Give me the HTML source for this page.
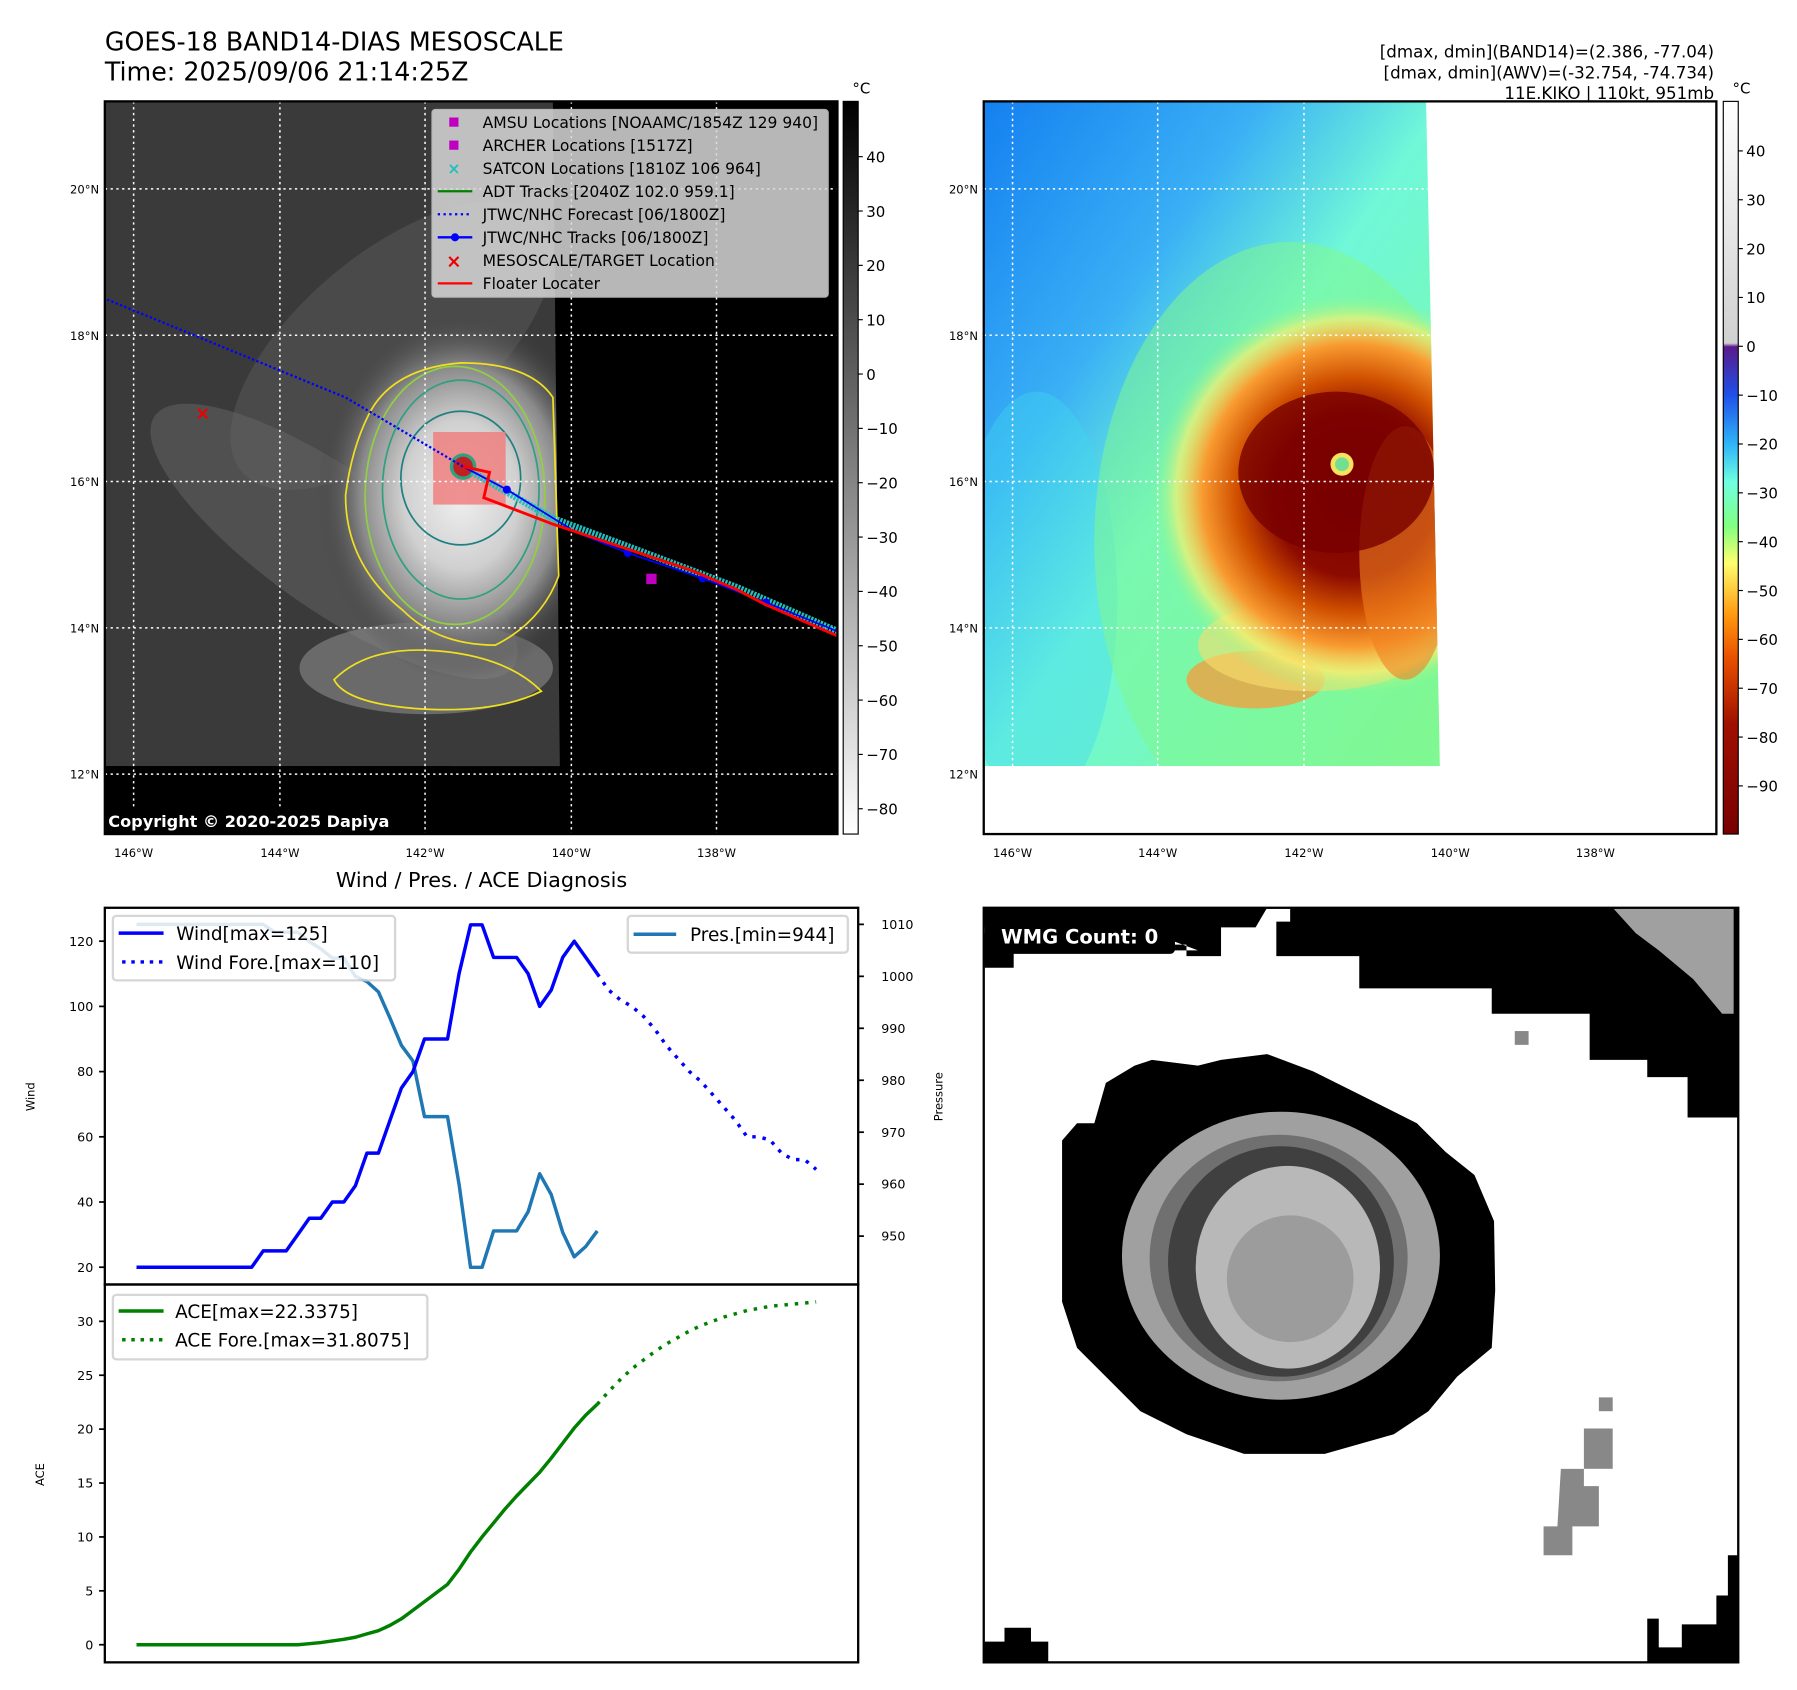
<!DOCTYPE html>
<html><head><meta charset="utf-8"><style>
html,body{margin:0;padding:0;background:#fff;}
svg{display:block;font-family:"DejaVu Sans","Liberation Sans",sans-serif;}
</style></head><body>
<svg id="root" width="1797" height="1690" viewBox="0 0 1560 1467" preserveAspectRatio="none" xmlns="http://www.w3.org/2000/svg">
<defs>
<linearGradient id="cb1" x1="0" y1="0" x2="0" y2="1"><stop offset="0" stop-color="#000"/><stop offset="1" stop-color="#fff"/></linearGradient>
<linearGradient id="cb2" x1="0" y1="0" x2="0" y2="1">
<stop offset="0" stop-color="#ffffff"/><stop offset="0.33" stop-color="#d0d0d0"/>
<stop offset="0.335" stop-color="#5a1a8a"/><stop offset="0.4" stop-color="#1f4fe8"/>
<stop offset="0.47" stop-color="#30b8f8"/><stop offset="0.52" stop-color="#70ffe0"/>
<stop offset="0.58" stop-color="#80ff80"/><stop offset="0.63" stop-color="#ffff70"/>
<stop offset="0.7" stop-color="#ff9a10"/><stop offset="0.76" stop-color="#e85000"/>
<stop offset="0.85" stop-color="#a01000"/><stop offset="1" stop-color="#780000"/></linearGradient>
<radialGradient id="cloud" cx="0.5" cy="0.5" r="0.5"><stop offset="0" stop-color="#f0f0f0"/><stop offset="0.4" stop-color="#d0d0d0"/><stop offset="0.7" stop-color="#8a8a8a"/><stop offset="1" stop-color="#3c3c3c" stop-opacity="0"/></radialGradient>
<linearGradient id="bg2" x1="0" y1="0" x2="1" y2="1"><stop offset="0" stop-color="#1480f0"/><stop offset="0.3" stop-color="#3ab0f5"/><stop offset="0.5" stop-color="#70f8d8"/><stop offset="1" stop-color="#80f890"/></linearGradient>
<radialGradient id="storm" cx="0.5" cy="0.5" r="0.5"><stop offset="0" stop-color="#7a0000"/><stop offset="0.4" stop-color="#8c0a00"/><stop offset="0.58" stop-color="#d05000"/><stop offset="0.75" stop-color="#f89a30"/><stop offset="0.88" stop-color="#f8f070" stop-opacity="0.7"/><stop offset="1" stop-color="#80f890" stop-opacity="0"/></radialGradient>
<clipPath id="c1"><rect x="91" y="88" width="636" height="636"/></clipPath>
<clipPath id="c2"><rect x="854" y="88" width="636" height="636"/></clipPath>
</defs>

<text x="91" y="44" font-size="22">GOES-18 BAND14-DIAS MESOSCALE</text>
<text x="91" y="70" font-size="22">Time: 2025/09/06 21:14:25Z</text>
<g font-size="14.5" text-anchor="end">
<text x="1488" y="50">[dmax, dmin](BAND14)=(2.386, -77.04)</text>
<text x="1488" y="68">[dmax, dmin](AWV)=(-32.754, -74.734)</text>
<text x="1488" y="86">11E.KIKO | 110kt, 951mb</text>
</g>

<g clip-path="url(#c1)">
<rect x="91" y="88" width="636" height="636" fill="#000"/>
<polygon points="91,88 480,88 486,665 91,665" fill="#3a3a3a"/>
<clipPath id="c1b"><polygon points="91,88 480,88 486,665 91,665"/></clipPath>
<g clip-path="url(#c1b)">
<ellipse cx="340" cy="300" rx="170" ry="80" fill="#555" opacity="0.6" transform="rotate(-40 340 300)"/>
<ellipse cx="290" cy="470" rx="190" ry="60" fill="#666" opacity="0.5" transform="rotate(35 290 470)"/>
<ellipse cx="370" cy="580" rx="110" ry="40" fill="#8a8a8a" opacity="0.6"/>
<ellipse cx="400" cy="430" rx="125" ry="160" fill="url(#cloud)"/>
</g>
<rect x="91" y="665" width="300" height="59" fill="#000"/>
<g fill="none" stroke-width="1.5">
<path d="M320,360 Q340,320 400,315 Q460,315 480,345 L485,500 Q470,540 430,560 Q380,560 350,530 Q300,490 300,430 Q305,390 320,360 Z" stroke="#f0e020"/>
<ellipse cx="395" cy="430" rx="78" ry="112" stroke="#90d040"/>
<ellipse cx="400" cy="425" rx="68" ry="95" stroke="#30a080"/>
<ellipse cx="400" cy="415" rx="52" ry="58" stroke="#208080"/>
<path d="M290,590 Q320,560 380,565 Q440,570 470,600 Q430,620 360,615 Q300,610 290,590 Z" stroke="#f0e020"/>
</g>
<rect x="376" y="375" width="63" height="63" fill="#f08080" opacity="0.85"/>
<circle cx="402" cy="405" r="10" fill="#c02020" stroke="#30a080" stroke-width="3"/>
<g stroke="#fff" stroke-width="1.3" stroke-dasharray="2,3">
<line x1="116" y1="88" x2="116" y2="724"/><line x1="243" y1="88" x2="243" y2="724"/><line x1="369" y1="88" x2="369" y2="724"/><line x1="496" y1="88" x2="496" y2="724"/><line x1="622" y1="88" x2="622" y2="724"/>
<line x1="91" y1="164" x2="727" y2="164"/><line x1="91" y1="291" x2="727" y2="291"/><line x1="91" y1="418" x2="727" y2="418"/><line x1="91" y1="545" x2="727" y2="545"/><line x1="91" y1="672" x2="727" y2="672"/>
</g>
<polyline points="93,260 300,345 402,405" fill="none" stroke="#0000ff" stroke-width="2" stroke-dasharray="2,2"/>
<polyline points="410,410 480,450 560,480 640,510 727,548" fill="none" stroke="#20c0c0" stroke-width="6" stroke-dasharray="2,1"/>
<polyline points="402,405 440,425 500,462 545,480 610,502 665,523 727,548" fill="none" stroke="#0000ff" stroke-width="1.5"/>
<g fill="#0000ff"><circle cx="440" cy="425" r="3.5"/><circle cx="545" cy="480" r="3.5"/><circle cx="610" cy="502" r="3.5"/><circle cx="665" cy="523" r="3.5"/></g>
<polyline points="402,405 425,410 420,432 480,455 540,475 600,495 640,512 665,525 727,552" fill="none" stroke="#ff0000" stroke-width="2.5"/>
<rect x="561" y="498" width="9" height="9" fill="#c000c0"/>
<text x="176" y="364" fill="#e00" font-size="16" font-weight="bold" text-anchor="middle">×</text>
<rect x="91" y="702" width="273" height="22" fill="#000"/>
<text x="94" y="718" fill="#fff" font-size="14" font-weight="bold">Copyright © 2020-2025 Dapiya</text>
</g>
<rect x="91" y="88" width="636" height="636" fill="none" stroke="#000" stroke-width="2"/>
<g font-size="13.5">
<rect x="375" y="95" width="344" height="163" fill="#d8d8d8" opacity="0.85" stroke="#ccc" rx="3"/>
<rect x="390" y="102" width="8" height="8" fill="#c000c0"/><text x="419" y="111">AMSU Locations [NOAAMC/1854Z 129 940]</text>
<rect x="390" y="122" width="8" height="8" fill="#c000c0"/><text x="419" y="131">ARCHER Locations [1517Z]</text>
<text x="394" y="151" fill="#20c0c0" text-anchor="middle" font-weight="bold">×</text><text x="419" y="151">SATCON Locations [1810Z 106 964]</text>
<line x1="380" y1="166" x2="410" y2="166" stroke="green" stroke-width="2"/><text x="419" y="171">ADT Tracks [2040Z 102.0 959.1]</text>
<line x1="380" y1="186" x2="410" y2="186" stroke="#00f" stroke-width="2" stroke-dasharray="2,3"/><text x="419" y="191">JTWC/NHC Forecast [06/1800Z]</text>
<line x1="380" y1="206" x2="410" y2="206" stroke="#00f" stroke-width="2"/><circle cx="395" cy="206" r="3.5" fill="#00f"/><text x="419" y="211">JTWC/NHC Tracks [06/1800Z]</text>
<text x="394" y="232" fill="#e00" text-anchor="middle" font-weight="bold" font-size="16">×</text><text x="419" y="231">MESOSCALE/TARGET Location</text>
<line x1="380" y1="246" x2="410" y2="246" stroke="#f00" stroke-width="2"/><text x="419" y="251">Floater Locater</text>
</g>
<g font-size="10" text-anchor="end">
<text x="86" y="168">20°N</text><text x="86" y="295">18°N</text><text x="86" y="422">16°N</text><text x="86" y="549">14°N</text><text x="86" y="676">12°N</text></g>
<g font-size="10" text-anchor="middle">
<text x="116" y="744">146°W</text><text x="243" y="744">144°W</text><text x="369" y="744">142°W</text><text x="496" y="744">140°W</text><text x="622" y="744">138°W</text></g>
<rect x="732" y="88" width="13" height="636" fill="url(#cb1)" stroke="#000" stroke-width="1"/>
<text x="740" y="81" font-size="13">°C</text>
<g font-size="13" id="cb1ticks"></g>

<g clip-path="url(#c2)">
<rect x="854" y="88" width="636" height="636" fill="#fff"/>
<clipPath id="c2b"><polygon points="854,88 1238,88 1250,665 854,665"/></clipPath>
<g clip-path="url(#c2b)">
<rect x="854" y="88" width="400" height="580" fill="url(#bg2)"/>
<ellipse cx="900" cy="520" rx="70" ry="180" fill="#40d8f0" opacity="0.4"/>
<ellipse cx="1120" cy="470" rx="170" ry="260" fill="#80f890" opacity="0.55"/>
<ellipse cx="1090" cy="590" rx="60" ry="25" fill="#f0a040" opacity="0.8"/>
<ellipse cx="1140" cy="560" rx="100" ry="40" fill="#f8e070" opacity="0.6"/>
<ellipse cx="1175" cy="430" rx="175" ry="175" fill="url(#storm)"/>
<ellipse cx="1220" cy="480" rx="40" ry="110" fill="#f08020" opacity="0.6"/>
<ellipse cx="1160" cy="410" rx="85" ry="70" fill="#780000" opacity="0.8"/>
<circle cx="1165" cy="403" r="10" fill="#f8e060"/><circle cx="1165" cy="403" r="6" fill="#70e090"/>
</g>
<g stroke="#fff" stroke-width="1.3" stroke-dasharray="2,3">
<line x1="879" y1="88" x2="879" y2="665"/><line x1="1005" y1="88" x2="1005" y2="665"/><line x1="1132" y1="88" x2="1132" y2="665"/>
<line x1="854" y1="164" x2="1250" y2="164"/><line x1="854" y1="291" x2="1250" y2="291"/><line x1="854" y1="418" x2="1250" y2="418"/><line x1="854" y1="545" x2="1250" y2="545"/>
</g>
</g>
<rect x="854" y="88" width="636" height="636" fill="none" stroke="#000" stroke-width="2"/>
<g font-size="10" text-anchor="end">
<text x="849" y="168">20°N</text><text x="849" y="295">18°N</text><text x="849" y="422">16°N</text><text x="849" y="549">14°N</text><text x="849" y="676">12°N</text></g>
<g font-size="10" text-anchor="middle">
<text x="879" y="744">146°W</text><text x="1005" y="744">144°W</text><text x="1132" y="744">142°W</text><text x="1259" y="744">140°W</text><text x="1385" y="744">138°W</text></g>
<rect x="1496" y="88" width="13" height="636" fill="url(#cb2)" stroke="#000" stroke-width="1"/>
<text x="1504" y="81" font-size="13">°C</text>
<g font-size="13" id="cb2ticks"></g>

<text x="418" y="770" font-size="18" text-anchor="middle">Wind / Pres. / ACE Diagnosis</text>
<g id="chart"></g>
<rect x="91" y="788" width="654" height="327" fill="none" stroke="#000" stroke-width="2"/>
<rect x="91" y="1115" width="654" height="328" fill="none" stroke="#000" stroke-width="2"/>
<text transform="translate(30,952) rotate(-90)" font-size="10" text-anchor="middle">Wind</text>
<text transform="translate(818,952) rotate(-90)" font-size="10" text-anchor="middle">Pressure</text>
<text transform="translate(38,1280) rotate(-90)" font-size="10" text-anchor="middle">ACE</text>
<g font-size="16">
<rect x="98" y="795" width="245" height="56" fill="#fff" opacity="0.85" stroke="#d0d0d0" stroke-width="2" rx="3"/>
<line x1="103" y1="810" x2="142" y2="810" stroke="#0000ff" stroke-width="3"/><text x="153" y="816">Wind[max=125]</text>
<line x1="106" y1="835" x2="142" y2="835" stroke="#0000ff" stroke-width="3" stroke-dasharray="3,5"/><text x="153" y="841">Wind Fore.[max=110]</text>
</g>
<g font-size="16">
<rect x="545" y="795" width="191" height="32" fill="#fff" opacity="0.85" stroke="#d0d0d0" stroke-width="2" rx="3"/>
<line x1="550" y1="811" x2="587" y2="811" stroke="#1f77b4" stroke-width="3"/><text x="599" y="817">Pres.[min=944]</text>
</g>
<g font-size="16">
<rect x="98" y="1124" width="273" height="56" fill="#fff" opacity="0.85" stroke="#d0d0d0" stroke-width="2" rx="3"/>
<line x1="103" y1="1138" x2="142" y2="1138" stroke="green" stroke-width="3"/><text x="152" y="1144">ACE[max=22.3375]</text>
<line x1="106" y1="1163" x2="142" y2="1163" stroke="green" stroke-width="3" stroke-dasharray="3,5"/><text x="152" y="1169">ACE Fore.[max=31.8075]</text>
</g>

<g>
<clipPath id="c3"><rect x="854" y="788" width="655" height="655"/></clipPath>
<g clip-path="url(#c3)">
<rect x="854" y="788" width="655" height="655" fill="#fff"/>
<polygon points="854,788 1120,788 1120,800 1108,800 1108,830 1180,830 1180,858 1295,858 1295,880 1380,880 1380,920 1430,920 1430,935 1465,935 1465,970 1509,970 1509,788 1100,788 1090,805 1060,805 1060,830 1030,830 1030,820 940,820 940,805 854,805 854,840 880,840 880,825 1040,825 1000,810 854,810" fill="#000"/>
<polygon points="1400,788 1505,788 1505,880 1495,880 1470,850 1440,825 1420,810" fill="#a0a0a0"/>
<rect x="1315" y="895" width="12" height="12" fill="#888"/>
<path d="M922,990 L935,975 L950,975 L960,940 L985,925 L1000,920 L1040,925 L1060,920 L1100,915 L1140,930 L1170,945 L1200,960 L1230,975 L1255,1000 L1280,1020 L1297,1060 L1298,1120 L1295,1170 L1265,1195 L1240,1225 L1210,1245 L1150,1262 L1080,1262 L1030,1245 L990,1225 L965,1200 L935,1170 L922,1130 Z" fill="#000"/>
<ellipse cx="1112" cy="1090" rx="138" ry="125" fill="#a0a0a0"/>
<ellipse cx="1110" cy="1092" rx="112" ry="107" fill="#707070"/>
<ellipse cx="1112" cy="1095" rx="98" ry="100" fill="#404040"/>
<ellipse cx="1118" cy="1100" rx="80" ry="88" fill="#b8b8b8"/>
<ellipse cx="1120" cy="1110" rx="55" ry="55" fill="#9c9c9c"/>
<polygon points="1355,1275 1375,1275 1375,1290 1388,1290 1388,1325 1365,1325 1365,1350 1340,1350 1340,1325 1352,1325" fill="#888"/>
<rect x="1375" y="1240" width="25" height="35" fill="#888"/><rect x="1388" y="1213" width="12" height="12" fill="#888"/>
<polygon points="1509,1350 1500,1350 1500,1385 1490,1385 1490,1410 1460,1410 1460,1430 1440,1430 1440,1405 1430,1405 1430,1443 1509,1443" fill="#000"/>
<polygon points="854,1425 872,1425 872,1413 895,1413 895,1425 910,1425 910,1443 854,1443" fill="#000"/>
<rect x="855" y="795" width="165" height="33" rx="4" fill="#000"/>
<text x="869" y="819" font-size="17" font-weight="bold" fill="#fff">WMG Count: 0</text>
</g>
<rect x="854" y="788" width="655" height="655" fill="none" stroke="#000" stroke-width="2"/>
</g>
</svg>
<script>
const windObs=[20,20,20,20,20,20,20,20,20,20,20,25,25,25,30,35,35,40,40,45,55,55,65,75,80,90,90,90,110,125,125,115,115,115,110,100,105,115,120,115,110];
const windFore=[110,105,102,100,97,93,88,84,80,77,73,69,65,60,60,59,55,53,53,50];
const presObs=[1010,1010,1010,1010,1010,1010,1010,1010,1010,1010,1010,1010,1008.5,1008.5,1008.5,1006.7,1005.3,1003.5,1003.5,1000,999,997,992,986.7,983.7,973,973,973,960,944,944,951,951,951,954.7,962,958,950.7,946,948,951];
const aceObs=[0,0,0,0,0,0,0,0,0,0,0,0,0,0,0,0.1,0.2,0.35,0.5,0.7,1.0,1.3,1.8,2.4,3.2,4.0,4.8,5.6,7.0,8.6,10.0,11.3,12.6,13.8,14.9,16.0,17.3,18.7,20.1,21.3,22.3];
const aceFore=[22.3,23.5,24.6,25.6,26.4,27.2,27.9,28.5,29.1,29.6,30.0,30.4,30.7,31.0,31.2,31.4,31.5,31.6,31.7,31.8];
const windTicks=[20,40,60,80,100,120];
const presTicks=[950,960,970,980,990,1000,1010];
const aceTicks=[0,5,10,15,20,25,30];
const cb1Ticks=[40,30,20,10,0,-10,-20,-30,-40,-50,-60,-70,-80];
const cb2Ticks=[40,30,20,10,0,-10,-20,-30,-40,-50,-60,-70,-80,-90];
const NS='http://www.w3.org/2000/svg';
const X0=118.5,DX=10;
const xs=i=>X0+DX*i;
const yWind=v=>1100-(v-20)*2.83;
const yPres=v=>802.4+(1010-v)*4.51;
const yAce=v=>1427.7-v*9.357;
const chart=document.getElementById('chart');
function mk(tag,attrs,parent){const e=document.createElementNS(NS,tag);for(const k in attrs)e.setAttribute(k,attrs[k]);(parent||chart).appendChild(e);return e;}
function line(vals,off,fy,color,dash,name){
  const pts=vals.map((v,i)=>xs(i+off).toFixed(1)+','+fy(v).toFixed(1)).join(' ');
  const p=mk('polyline',{points:pts,fill:'none',stroke:color,'stroke-width':3,'stroke-linejoin':'round'});
  if(dash)p.setAttribute('stroke-dasharray',dash);
  
  
}
line(presObs,0,yPres,'#1f77b4',null,'pressure-line');
line(windObs,0,yWind,'#0000ff',null,'wind-line');
line(windFore,windObs.length-1,yWind,'#0000ff','3,6','wind-forecast-line');
line(aceObs,0,yAce,'#008000',null,'ace-line');
line(aceFore,aceObs.length-1,yAce,'#008000','3,6','ace-forecast-line');
function ticks(arr,fy,x,side){
  arr.forEach(v=>{const y=fy(v);
    const t=mk('line',{x1:x,x2:x+(side<0?-5:5),y1:y,y2:y,stroke:'#000','stroke-width':1.5});
    
    
    const tx=mk('text',{x:side<0?x-10:x+20,y:y+4,'font-size':11,'text-anchor':side<0?'end':'start'});
    tx.textContent=v;
    
    
  });
}
ticks(windTicks,yWind,91,-1);
ticks(presTicks,yPres,745,1);
ticks(aceTicks,yAce,91,-1);
function cbTicks(arr,g,x,y0,step){
  const gg=document.getElementById(g);
  arr.forEach((v,i)=>{const y=y0+i*step;
    mk('line',{x1:x,x2:x+4,y1:y,y2:y,stroke:'#000'},gg);
    const t=mk('text',{x:x+7,y:y+5},gg);
    t.textContent=(v<0?'\u2212'+(-v):v);
    
    
  });
}
cbTicks(cb1Ticks,'cb1ticks',745,136,47.17);
cbTicks(cb2Ticks,'cb2ticks',1509,131,42.4);
</script>
</body></html>
